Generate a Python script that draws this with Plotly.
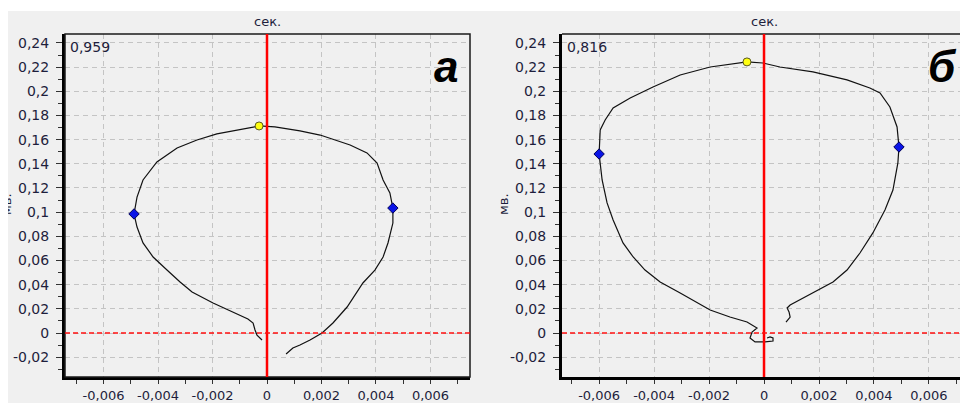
import plotly.graph_objects as go

# ---------------- data ----------------
# Panel "а"
a_x = [-0.000183, -0.000367, -0.00044, -0.00051, -0.00070, -0.00125, -0.00198, -0.00275,
       -0.00319, -0.00367, -0.00418, -0.00455, -0.00477, -0.00488, -0.00477, -0.00455,
       -0.00404, -0.00330, -0.00257, -0.00184, -0.00125, -0.00029, 0.00029, 0.00121,
       0.00195, 0.00305, 0.00367, 0.00404, 0.00426, 0.00451, 0.00462, 0.00462, 0.00444,
       0.00426, 0.00396, 0.00352, 0.00294, 0.00242, 0.00202, 0.00158, 0.00121, 0.00095,
       0.00070]
a_y = [-0.0058, -0.0017, 0.0025, 0.0083, 0.0116, 0.0174, 0.0248, 0.0339,
       0.0422, 0.0521, 0.0629, 0.0745, 0.0877, 0.0985, 0.1125, 0.1266,
       0.1415, 0.1531, 0.1597, 0.1647, 0.1672, 0.1713, 0.1705, 0.1672,
       0.1638, 0.1556, 0.1490, 0.1407, 0.1266, 0.1159, 0.1034, 0.0910, 0.0745,
       0.0629, 0.0521, 0.0414, 0.0215, 0.0083, 0.0, -0.0058, -0.0099, -0.0124,
       -0.0174]
a_side_x = [-0.00488, 0.00462]
a_side_y = [0.0985, 0.1034]
a_top_x = [-0.00029]
a_top_y = [0.1713]
a_value = "0,959"
a_letter = "а"

# Panel "б"
b_x = [0.000109, 0.000218, 0.000327, 0.000327, 0.000036, -0.000327, -0.000509, -0.000436,
       -0.000255, -0.000618, -0.00124, -0.00196, -0.00305, -0.00378, -0.00433, -0.00476,
       -0.00513, -0.00549, -0.00571, -0.00589, -0.00600, -0.00596, -0.00578, -0.00549,
       -0.00487, -0.00404, -0.00305, -0.00196, -0.00062, -0.00004, 0.00058, 0.00178,
       0.00302, 0.00385, 0.00422, 0.00458, 0.00484, 0.00491, 0.00487, 0.00469,
       0.00440, 0.00396, 0.00349, 0.00302, 0.00251, 0.00178, 0.00095, 0.00084,
       0.00091, 0.00095, 0.00087, 0.00080]
b_y = [-0.0041, -0.0033, -0.0041, -0.0066, -0.0074, -0.0074, -0.0041, 0.0008,
       0.0041, 0.0091, 0.0132, 0.0190, 0.0331, 0.0422, 0.0521, 0.0629,
       0.0745, 0.0935, 0.1076, 0.1266, 0.1481, 0.1680, 0.1763, 0.1862,
       0.1945, 0.2036, 0.2135, 0.2201, 0.2243, 0.2234, 0.2201, 0.2160,
       0.2094, 0.2027, 0.1986, 0.1870, 0.1705, 0.1539, 0.1407, 0.1183,
       0.1018, 0.0828, 0.0662, 0.0521, 0.0422, 0.0331, 0.0232, 0.0207,
       0.0174, 0.0132, 0.0108, 0.0091]
b_side_x = [-0.00600, 0.00491]
b_side_y = [0.1481, 0.1539]
b_top_x = [-0.00062]
b_top_y = [0.2243]
b_value = "0,816"
b_letter = "б"

x_ticks = [-0.006, -0.004, -0.002, 0, 0.002, 0.004, 0.006]
x_labels = ["-0,006", "-0,004", "-0,002", "0", "0,002", "0,004", "0,006"]
y_ticks = [-0.02, 0, 0.02, 0.04, 0.06, 0.08, 0.1, 0.12, 0.14, 0.16, 0.18, 0.2, 0.22, 0.24]
y_labels = ["-0,02", "0", "0,02", "0,04", "0,06", "0,08", "0,1", "0,12", "0,14",
            "0,16", "0,18", "0,2", "0,22", "0,24"]
x_title = "сек."
y_title = "мв."

# ---------------- figure ----------------
W, H = 960, 403
def px(v):
    return v / W
def py(v):
    return 1 - v / H

TXT = "#1e1e3c"
FONT = "DejaVu Sans"

fig = go.Figure()
for (xs, ys, sx, sy, tx, ty, xa, ya) in [
    (a_x, a_y, a_side_x, a_side_y, a_top_x, a_top_y, "x", "y"),
    (b_x, b_y, b_side_x, b_side_y, b_top_x, b_top_y, "x2", "y2"),
]:
    fig.add_trace(go.Scatter(x=xs, y=ys, mode="lines", xaxis=xa, yaxis=ya,
                             line=dict(color="#111111", width=1.2), showlegend=False))
    fig.add_trace(go.Scatter(x=sx, y=sy, mode="markers", xaxis=xa, yaxis=ya,
                             marker=dict(symbol="diamond", size=8, color="#0a14e6",
                                         line=dict(color="#00005a", width=1)),
                             showlegend=False))
    fig.add_trace(go.Scatter(x=tx, y=ty, mode="markers", xaxis=xa, yaxis=ya,
                             marker=dict(symbol="circle", size=8, color="#ffff10",
                                         line=dict(color="#5a5a20", width=1)),
                             showlegend=False))

xaxis_common = dict(
    tickmode="array", tickvals=x_ticks, ticktext=x_labels, automargin=False,
    showgrid=True, gridcolor="#c4c4c4", gridwidth=1, griddash="5px,4px",
    zeroline=False, showline=True, linecolor="#000000", linewidth=3,
    ticks="outside", ticklen=4, tickcolor="#333333", tickwidth=1,
    ticklabelstandoff=0,
    minor=dict(dtick=0.001, tick0=0, ticks="outside", ticklen=4, tickcolor="#333333",
               showgrid=False),
    tickfont=dict(family=FONT, size=13, color=TXT),
)
yaxis_common = dict(
    tickmode="array", tickvals=y_ticks, ticktext=y_labels, automargin=False,
    range=[-0.0364, 0.2474],
    showgrid=True, gridcolor="#c4c4c4", gridwidth=1, griddash="5px,4px",
    zeroline=False, showline=True, linecolor="#000000", linewidth=3,
    ticks="outside", ticklen=6, tickcolor="#333333", tickwidth=1,
    ticklabelstandoff=4,
    minor=dict(dtick=0.01, tick0=0, ticks="outside", ticklen=4, tickcolor="#333333",
               showgrid=False),
    tickfont=dict(family=FONT, size=14, color=TXT),
    domain=[py(377), py(34)],
)

fig.update_layout(
    width=W, height=H, margin=dict(l=0, r=0, t=0, b=0, autoexpand=False),
    paper_bgcolor="#ffffff", plot_bgcolor="#ffffff",
    xaxis=dict(xaxis_common, domain=[px(65), px(470)], range=[-0.007413, 0.00745], anchor="y"),
    yaxis=dict(yaxis_common, anchor="x"),
    xaxis2=dict(xaxis_common, domain=[px(562), 1.0], range=[-0.00735, 0.00713], anchor="y2"),
    yaxis2=dict(yaxis_common, anchor="x2"),
    showlegend=False,
)

shapes = [
    # gray panel background
    dict(type="rect", xref="paper", yref="paper", x0=px(8), x1=1, y0=0, y1=py(11),
         fillcolor="#f0f0f0", line=dict(width=0), layer="below"),
]
for xa, ya, full in [("x", "y", True), ("x2", "y2", False)]:
    if full:
        shapes.append(dict(type="rect", xref=f"{xa} domain", yref=f"{ya} domain",
                           x0=0, x1=1, y0=0, y1=1, line=dict(color="#1a1a1a", width=1.5)))
    else:
        shapes.append(dict(type="line", xref=f"{xa} domain", yref=f"{ya} domain",
                           x0=0, x1=1, y0=1, y1=1, line=dict(color="#1a1a1a", width=1.5)))
    # red reference lines
    shapes.append(dict(type="line", xref=xa, yref=f"{ya} domain", x0=0, x1=0, y0=0, y1=1,
                       line=dict(color="#ff0000", width=2.5)))
    shapes.append(dict(type="line", xref=f"{xa} domain", yref=ya, x0=0, x1=1, y0=0, y1=0,
                       line=dict(color="#ff1010", width=1.5, dash="5px,3px")))
fig.update_layout(shapes=shapes)

ann = []
for xa, ya, val, letter, lx, ttl_x, vx in [
    ("x", "y", a_value, a_letter, 446, 6, 68),
    ("x2", "y2", b_value, b_letter, 942, 503, 565),
]:
    ann.append(dict(text=x_title, xref=xa, yref="paper", x=0, y=py(21), showarrow=False,
                    xanchor="center", yanchor="middle",
                    font=dict(family=FONT, size=13, color=TXT)))
    ann.append(dict(text=y_title, xref="paper", yref="paper", x=px(ttl_x), y=py(204),
                    showarrow=False, textangle=-90, xanchor="center", yanchor="middle",
                    font=dict(family=FONT, size=13, color=TXT)))
    ann.append(dict(text=val, xref="paper", yref="paper", x=px(vx), y=py(47),
                    showarrow=False, xanchor="left", yanchor="middle",
                    font=dict(family=FONT, size=14, color=TXT)))
    ann.append(dict(text=f"<b><i>{letter}</i></b>", xref="paper", yref="paper",
                    x=px(lx), y=py(66), showarrow=False, xanchor="center", yanchor="middle",
                    font=dict(family="Liberation Sans", size=44, color="#000000")))
# clip of the left "мв." label at the panel edge (as in the reference)
ann.append(dict(text=" ", xref="paper", yref="paper", x=0, y=py(204), showarrow=False,
                xanchor="left", yanchor="middle", width=8, height=60, bgcolor="#ffffff",
                borderpad=0, borderwidth=0))
fig.update_layout(annotations=ann)

fig.write_html("out.html")
